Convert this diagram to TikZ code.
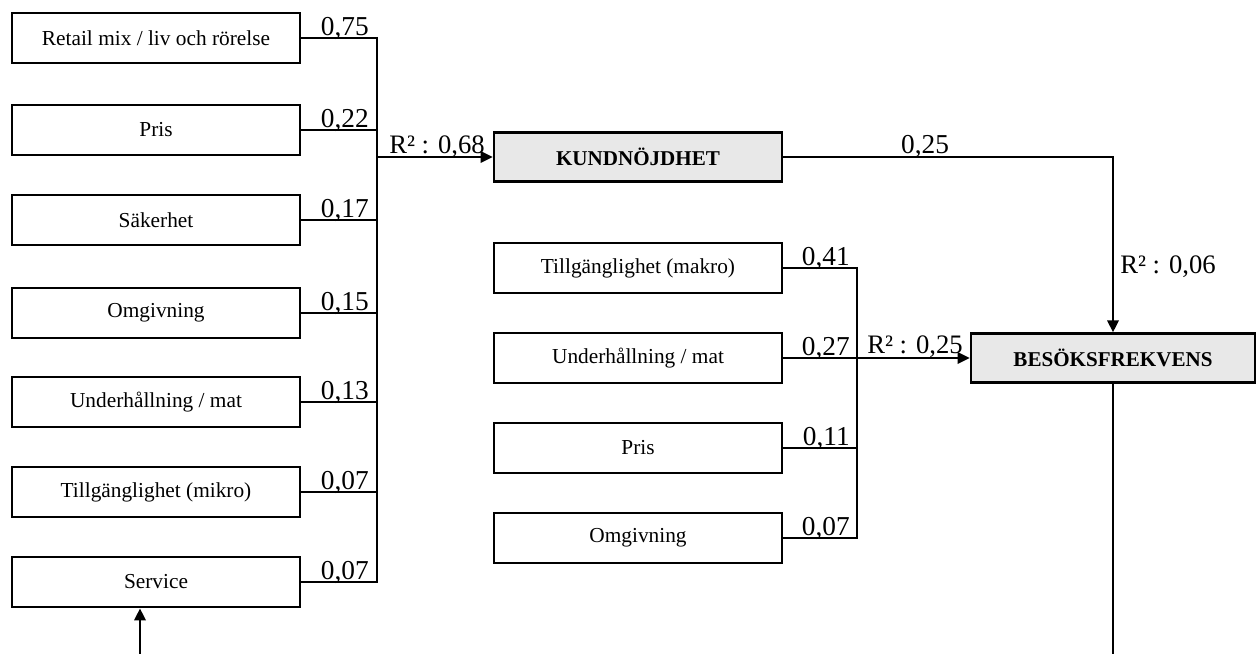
\documentclass[tikz,border=0pt]{standalone}
\usepackage{fontspec}
\setmainfont{Liberation Serif}
\usetikzlibrary{arrows.meta}
\begin{document}
\begin{tikzpicture}[x=0.75pt,y=-0.75pt,
  boxnode/.style={draw,line width=1.6pt,minimum width=216pt,minimum height=38pt,inner sep=0pt,font=\fontsize{16}{19}\selectfont},
  keynode/.style={draw,line width=2pt,fill=keygray,minimum height=36.5pt,inner sep=0pt,font=\fontsize{15.8}{19}\selectfont\bfseries},
  coef/.style={anchor=base east,inner sep=0pt,font=\fontsize{20.5}{24}\selectfont},
  rsq/.style={anchor=base west,inner sep=0pt,font=\fontsize{20}{24}\selectfont},
  wire/.style={line width=1.7pt},
  arr/.style={line width=1.7pt,-{Triangle[length=9pt,width=8.5pt]}}]
\definecolor{keygray}{HTML}{E8E8E8}
\useasboundingbox (0,0) rectangle (1258,654);
% left boxes
\node[boxnode] (r1) at (156,38) {Retail mix / liv och rörelse};
\node[boxnode] (r2) at (156,130) {Pris};
\node[boxnode] (r3) at (156,220) {Säkerhet};
\node[boxnode] (r4) at (156,313) {Omgivning};
\node[boxnode] (r5) at (156,402) {Underhållning / mat};
\node[boxnode] (r6) at (156,492) {Tillgänglighet (mikro)};
\node[boxnode] (r7) at (156,582) {Service};
% middle boxes
\node[boxnode] (m1) at (638,268) {Tillgänglighet (makro)};
\node[boxnode] (m2) at (638,358) {Underhållning / mat};
\node[boxnode] (m3) at (638,448) {Pris};
\node[boxnode] (m4) at (638,538) {Omgivning};
% key boxes
\node[keynode,minimum width=216pt] (kund) at (638,157) {KUNDNÖJDHET};
\node[keynode,minimum width=213pt] (bes) at (1113,358) {BESÖKSFREKVENS};
% left bus
\foreach \i/\y in {1/38,2/130,3/220,4/313,5/402,6/492,7/582}{
  \coordinate (lb\i) at (377,\y);
  \draw[wire] (r\i.east) -- (lb\i);
}
\draw[wire] ([yshift=0.85pt]lb1) -- ([yshift=-0.85pt]lb7);
\coordinate (lbk) at (377,157);
\draw[arr] (lbk) -- (kund.west);
% middle bus
\foreach \i/\y in {1/268,2/358,3/448,4/538}{
  \coordinate (mb\i) at (857,\y);
  \draw[wire] (m\i.east) -- (mb\i);
}
\draw[wire] ([yshift=0.85pt]mb1) -- ([yshift=-0.85pt]mb4);
\draw[arr] (mb2) -- (bes.west);
% kund to bes
\coordinate (kc) at (1113,157);
\draw[arr] (kund.east) -- (kc) -- (bes.north);
% bottom loop ends
\coordinate (bend) at (1113,654);
\draw[wire] (bes.south) -- (bend);
\coordinate (send) at (140,654);
\draw[arr] (send) -- (send |- r7.south);
% coefficients
\node[coef] (c1) at (369,35) {0,75};
\node[coef] (c2) at (369,127) {0,22};
\node[coef] (c3) at (369,217) {0,17};
\node[coef] (c4) at (369,310) {0,15};
\node[coef] (c5) at (369,399) {0,13};
\node[coef] (c6) at (369,489) {0,07};
\node[coef] (c7) at (369,579) {0,07};
\node[coef] (d1) at (850,265) {0,41};
\node[coef] (d2) at (850,355) {0,27};
\node[coef] (d3) at (850,445) {0,11};
\node[coef] (d4) at (850,535) {0,07};
\node[coef,anchor=base] (k1) at (925,153) {0,25};
\node[rsq] (q1) at (389,153) {R² : 0,68};
\node[rsq] (q2) at (867,353) {R² : 0,25};
\node[rsq] (q3) at (1120,273) {R² : 0,06};
\end{tikzpicture}
\end{document}
